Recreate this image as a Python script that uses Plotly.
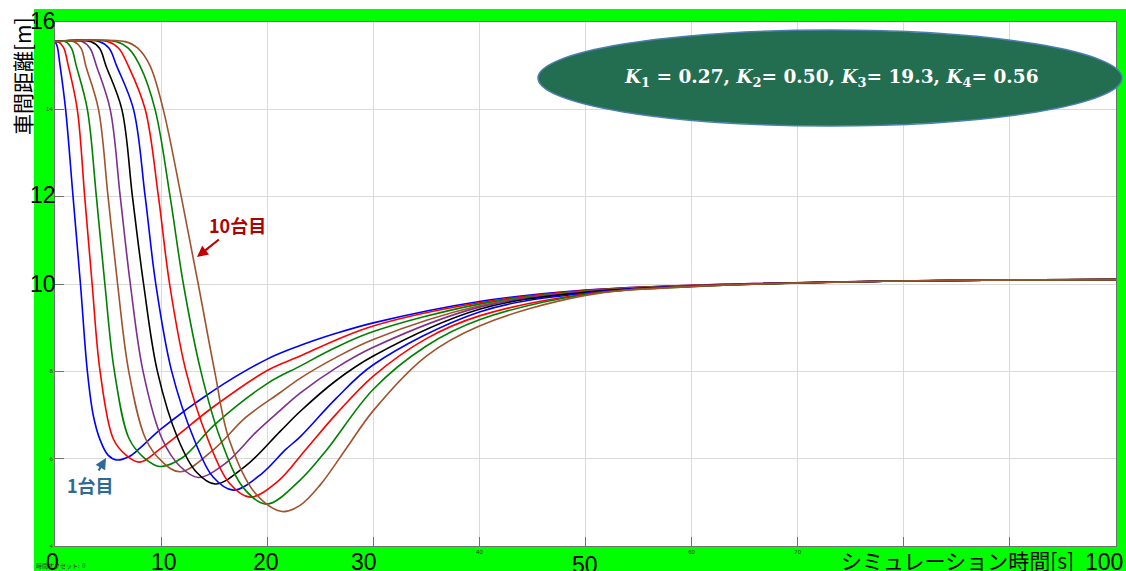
import plotly.graph_objects as go

# ---------------- data ----------------
car1_t = [0, 0.2, 0.45, 1.0, 1.7, 2.4, 3.05, 3.6, 4.25, 5.0, 5.8, 7.0, 8.0, 10, 15, 20, 23.1, 26.5, 30, 40, 50, 60, 80, 100]
car1_y = [15.55, 15.45, 15.05, 14.0, 12.0, 10.0, 8.0, 7.0, 6.43, 6.08, 5.97, 6.05, 6.24, 6.68, 7.57, 8.28, 8.59, 8.87, 9.11, 9.60, 9.86, 9.97, 10.07, 10.1]

car2_t = [0, 0.3, 0.8, 1.25, 2.1, 2.8, 3.5, 4.25, 5.5, 6.7, 8.0, 10, 15, 20, 23.1, 26.5, 30, 40, 50, 60, 80, 100]
car2_y = [15.55, 15.55, 15.42, 15.0, 14.0, 12.0, 10.0, 8.0, 6.45, 6.08, 5.92, 6.24, 7.2, 8.02, 8.35, 8.72, 9.04, 9.57, 9.85, 9.97, 10.07, 10.1]

car3_t = [0, 1.0, 1.55, 2.0, 3.05, 3.9, 4.7, 5.6, 7.0, 8.4, 9.9, 12, 15, 20, 23.1, 26.5, 30, 40, 50, 60, 80, 100]
car3_y = [15.55, 15.55, 15.4, 15.0, 14.0, 12.0, 10.0, 8.0, 6.45, 6.02, 5.82, 6.02, 6.77, 7.72, 8.12, 8.55, 8.91, 9.54, 9.84, 9.96, 10.07, 10.1]

car4_t = [0, 1.8, 2.45, 2.9, 4.1, 5.0, 5.9, 6.95, 8.55, 10.1, 11.8, 15, 18, 21.2, 23.1, 26.5, 30, 40, 50, 60, 80, 100]
car4_y = [15.55, 15.55, 15.4, 15.0, 14.0, 12.0, 10.0, 8.0, 6.45, 5.93, 5.70, 6.22, 6.95, 7.51, 7.84, 8.32, 8.73, 9.50, 9.83, 9.96, 10.07, 10.1]

car5_t = [0, 2.6, 3.3, 3.9, 5.2, 6.15, 7.1, 8.3, 10.1, 11.8, 13.5, 16, 19, 21.2, 23.1, 26.5, 30, 40, 50, 60, 80, 100]
car5_y = [15.55, 15.55, 15.4, 15.0, 14.0, 12.0, 10.0, 8.0, 6.45, 5.82, 5.57, 5.88, 6.62, 7.10, 7.50, 8.08, 8.55, 9.47, 9.82, 9.96, 10.07, 10.1]

car6_t = [0, 3.4, 4.2, 4.8, 6.3, 7.3, 8.35, 9.65, 11.6, 13.3, 15.1, 18, 21.2, 23.1, 26.5, 30, 40, 50, 60, 80, 100]
car6_y = [15.55, 15.55, 15.4, 15.0, 14.0, 12.0, 10.0, 8.0, 6.45, 5.70, 5.42, 5.84, 6.62, 7.08, 7.79, 8.35, 9.42, 9.81, 9.95, 10.07, 10.1]

car7_t = [0, 4.2, 5.1, 5.8, 7.4, 8.5, 9.5, 11.0, 13.1, 14.9, 16.8, 19.5, 21.7, 23.1, 26.5, 30, 40, 50, 60, 80, 100]
car7_y = [15.55, 15.55, 15.4, 15.0, 14.0, 12.0, 10.0, 8.0, 6.45, 5.58, 5.28, 5.66, 6.20, 6.50, 7.38, 8.15, 9.36, 9.79, 9.95, 10.07, 10.1]

car8_t = [0, 5.0, 6.0, 6.9, 8.5, 9.75, 10.8, 12.35, 14.4, 16.4, 18.4, 21.0, 23.6, 26.5, 30, 35, 40, 50, 60, 80, 100]
car8_y = [15.55, 15.55, 15.4, 15.0, 14.0, 12.0, 10.0, 8.0, 6.45, 5.45, 5.12, 5.48, 6.20, 7.02, 7.89, 8.75, 9.27, 9.77, 9.95, 10.07, 10.1]

car9_t = [0, 5.8, 6.9, 8.0, 9.43, 10.85, 12.1, 13.75, 15.6, 17.8, 19.95, 23.1, 25.6, 30, 35, 40, 50, 60, 80, 100]
car9_y = [15.55, 15.55, 15.4, 15.0, 14.0, 12.0, 10.0, 8.0, 6.45, 5.32, 4.96, 5.51, 6.20, 7.59, 8.58, 9.18, 9.76, 9.94, 10.07, 10.1]

car10_t = [0, 6.6, 7.8, 8.95, 10.2, 11.9, 13.5, 15.05, 16.4, 18.9, 21.4, 23.1, 25.0, 27.5, 30, 35, 40, 50, 60, 80, 100]
car10_y = [15.55, 15.55, 15.4, 15.0, 14.0, 12.0, 10.0, 8.0, 6.45, 5.20, 4.79, 4.93, 5.40, 6.25, 7.10, 8.35, 9.04, 9.74, 9.94, 10.07, 10.1]

series_t = [car1_t, car2_t, car3_t, car4_t, car5_t, car6_t, car7_t, car8_t, car9_t, car10_t]
series_y = [car1_y, car2_y, car3_y, car4_y, car5_y, car6_y, car7_y, car8_y, car9_y, car10_y]
series_colors = ['#0000FF', '#FF0000', '#008000', '#A0522D', '#7E2F8E',
                 '#000000', '#0000FF', '#FF0000', '#008000', '#A0522D']

x_ticks = [0, 10, 20, 30, 40, 50, 60, 70, 80, 90, 100]
x_small_labels = ['', '', '', '', '40', '', '60', '70', '', '', '']
y_ticks = [4, 6, 8, 10, 12, 14, 16]
y_small_labels = ['4', '6', '8', '', '', '14', '']
big_x_labels = ['0', '10', '20', '30', '50', '100']
big_y_labels = ['16', '12', '10']

# ---------------- layout geometry (pixels of the 1126x571 picture) ----------------
W, H = 1126, 571
ML, MR, MT, MB = 55, 10, 22, 25
PW, PH = W - ML - MR, H - MT - MB


def fx(p):
    return (p - ML) / PW


def fy(p):
    return (H - MB - p) / PH


fig = go.Figure()
for t, y, c in zip(series_t, series_y, series_colors):
    fig.add_trace(go.Scatter(x=t, y=y, mode='lines',
                             line=dict(color=c, width=1.6, shape='spline', smoothing=1.0),
                             hoverinfo='skip', showlegend=False))

shapes = [
    dict(type='rect', xref='paper', yref='paper', x0=fx(34), x1=fx(1126), y0=fy(571), y1=fy(9),
         fillcolor='#00FF00', line=dict(width=0), layer='below'),
    dict(type='rect', xref='paper', yref='paper', x0=0, x1=1, y0=0, y1=1,
         fillcolor='white', line=dict(width=0), layer='below'),
    dict(type='circle', xref='paper', yref='paper', x0=fx(538), x1=fx(1122), y0=fy(126), y1=fy(30),
         fillcolor='#236E50', line=dict(color='#4A7FB0', width=1.5), layer='above'),
]

ann = []
big_font = dict(family='Liberation Sans, Arial', size=23, color='black')
for lab, xc in zip(big_x_labels, [52, 164, 266, 364, 585, 1104]):
    yc = 565 if lab == '50' else 562
    ann.append(dict(text=lab, xref='paper', yref='paper', x=fx(xc), y=fy(yc),
                    xanchor='center', yanchor='middle', showarrow=False, font=big_font))
for lab, yc in zip(big_y_labels, [21, 195, 283.5]):
    ann.append(dict(text=lab, xref='paper', yref='paper', x=fx(43), y=fy(yc),
                    xanchor='center', yanchor='middle', showarrow=False, font=big_font))

ann.append(dict(text='車間距離[m]', xref='paper', yref='paper', x=fx(22), y=fy(76),
                xanchor='center', yanchor='middle', textangle=-90, showarrow=False,
                font=dict(family='Noto Sans CJK JP', size=21, color='black')))
ann.append(dict(text='シミュレーション時間[s]', xref='paper', yref='paper', x=fx(957), y=fy(560),
                xanchor='center', yanchor='middle', showarrow=False,
                font=dict(family='Noto Sans CJK JP', size=21, color='black')))
ann.append(dict(text='時間オフセット:  0', xref='paper', yref='paper', x=fx(34), y=fy(565),
                xanchor='left', yanchor='middle', showarrow=False,
                font=dict(family='Noto Sans CJK JP', size=6, color='#333')))
ann.append(dict(text='<b><i>K</i><sub>1</sub> = 0.27, <i>K</i><sub>2</sub>= 0.50, '
                     '<i>K</i><sub>3</sub>= 19.3, <i>K</i><sub>4</sub>= 0.56</b>',
                xref='paper', yref='paper', x=fx(831), y=fy(78),
                xanchor='center', yanchor='middle', showarrow=False,
                font=dict(family='DejaVu Serif', size=18.5, color='white')))
# labelled arrows
ann.append(dict(text='<b>10台目</b>', xref='paper', yref='paper', x=fx(197), y=fy(257),
                ax=40, ay=-32, showarrow=True, arrowhead=2, arrowsize=1, arrowwidth=2.2,
                arrowcolor='#C00000', font=dict(family='Noto Sans CJK JP', size=18, color='#B00000')))
ann.append(dict(text='<b>1台目</b>', xref='paper', yref='paper', x=fx(106), y=fy(458),
                ax=-16, ay=27, showarrow=True, arrowhead=2, arrowsize=1, arrowwidth=2.2,
                arrowcolor='#2E6A96', font=dict(family='Noto Sans CJK JP', size=18, color='#2E6A96')))

axis_common = dict(showgrid=True, gridcolor='#DADADA', gridwidth=1, zeroline=False,
                   showline=True, linecolor='#707070', linewidth=1, mirror=True,
                   ticks='inside', ticklen=9, tickcolor='#707070', tickwidth=1,
                   tickfont=dict(family='Liberation Sans', size=6, color='#333'))

fig.update_layout(
    width=W, height=H,
    margin=dict(l=ML, r=MR, t=MT, b=MB),
    paper_bgcolor='white', plot_bgcolor='white',
    xaxis=dict(range=[0, 100], tickvals=x_ticks, ticktext=x_small_labels, **axis_common),
    yaxis=dict(range=[4, 16], tickvals=y_ticks, ticktext=y_small_labels, **axis_common),
    shapes=shapes, annotations=ann, showlegend=False,
)

fig.write_html('out.html', config={'displayModeBar': False},
               post_script="document.body.style.margin='0px';")
